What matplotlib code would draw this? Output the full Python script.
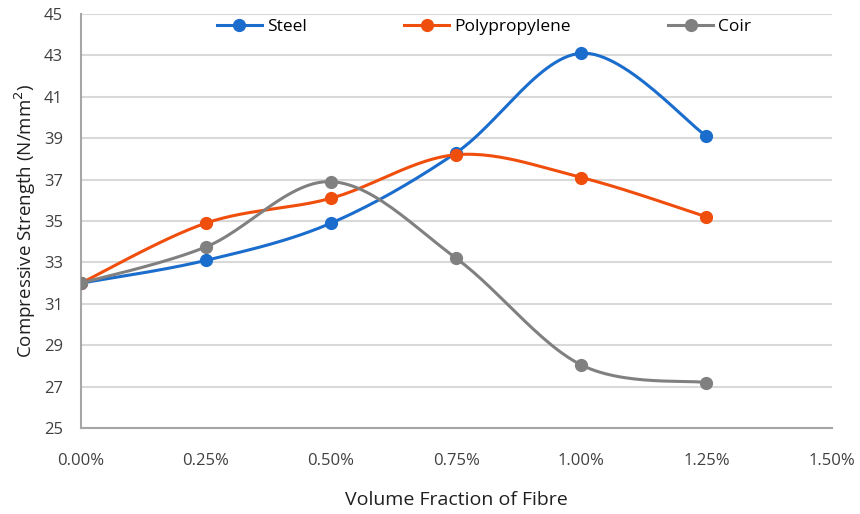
import numpy as np
import matplotlib
matplotlib.use("Agg")
import matplotlib.pyplot as plt
from matplotlib.ticker import FuncFormatter

plt.rcParams["font.family"] = ["Open Sans", "DejaVu Sans"]

fraction = [0.00, 0.25, 0.50, 0.75, 1.00, 1.25]
steel = [32.0, 33.1, 34.9, 38.3, 43.1, 39.1]
polypropylene = [32.0, 34.9, 36.1, 38.2, 37.1, 35.2]
coir = [32.0, 33.75, 36.9, 33.2, 28.05, 27.2]
series = [("Steel", steel, "#1a6dcc"),
          ("Polypropylene", polypropylene, "#f04e0c"),
          ("Coir", coir, "#808080")]


def smooth(x, y, n=30):
    # Excel-style smoothed line: cubic Bezier through points (Catmull-Rom tangents)
    x = np.asarray(x, float); y = np.asarray(y, float)
    px = np.concatenate([[x[0]], x, [x[-1]]]); py = np.concatenate([[y[0]], y, [y[-1]]])
    xs, ys = [], []
    t = np.linspace(0, 1, n)
    for i in range(1, len(px) - 2):
        p0 = np.array([px[i], py[i]]); p3 = np.array([px[i + 1], py[i + 1]])
        p1 = p0 + (np.array([px[i + 1], py[i + 1]]) - np.array([px[i - 1], py[i - 1]])) / 6
        p2 = p3 - (np.array([px[i + 2], py[i + 2]]) - np.array([px[i], py[i]])) / 6
        b = ((1 - t) ** 3)[:, None] * p0 + (3 * (1 - t) ** 2 * t)[:, None] * p1 \
            + (3 * (1 - t) * t ** 2)[:, None] * p2 + (t ** 3)[:, None] * p3
        xs.extend(b[:, 0]); ys.extend(b[:, 1])
    return xs, ys


fig = plt.figure(figsize=(8.6, 5.14), dpi=100)
ax = fig.add_axes([0.094, 0.167, 0.873, 0.806])

for name, vals, col in series:
    sx, sy = smooth(fraction, vals)
    ax.plot(sx, sy, color=col, lw=2.2, zorder=3)
    ax.plot(fraction, vals, "o", color=col, ms=8.5, zorder=4)
    ax.plot([], [], "-o", color=col, lw=2.2, ms=8.5, label=name)

ax.set_xlim(0, 1.5)
ax.set_ylim(25, 45)
ax.set_xticks(np.arange(0, 1.51, 0.25))
ax.set_yticks(np.arange(25, 46, 2))
ax.xaxis.set_major_formatter(FuncFormatter(lambda v, p: f"{v:.2f}%"))
ax.grid(axis="y", color="#d9d9d9", lw=1.5)
ax.set_axisbelow(True)
for s in ["top", "right"]:
    ax.spines[s].set_visible(False)
for s in ["left", "bottom"]:
    ax.spines[s].set_color("#a6a6a6"); ax.spines[s].set_linewidth(1.5)
ax.tick_params(length=0, labelsize=12, colors="#404040")
ax.tick_params(axis="x", pad=18)
ax.tick_params(axis="y", pad=13)
ax.set_xlabel("Volume Fraction of Fibre", fontsize=14, color="#202020", labelpad=16)
ax.set_ylabel("Compressive Strength (N/mm$^2$)", fontsize=13.5, color="#202020", labelpad=4)

ax.legend(loc="upper center", bbox_to_anchor=(0.537, 1.025), ncol=3, frameon=False,
          fontsize=12.5, columnspacing=5.6, handlelength=2.6, handletextpad=0.3)

fig.savefig("out.png", dpi=100)
